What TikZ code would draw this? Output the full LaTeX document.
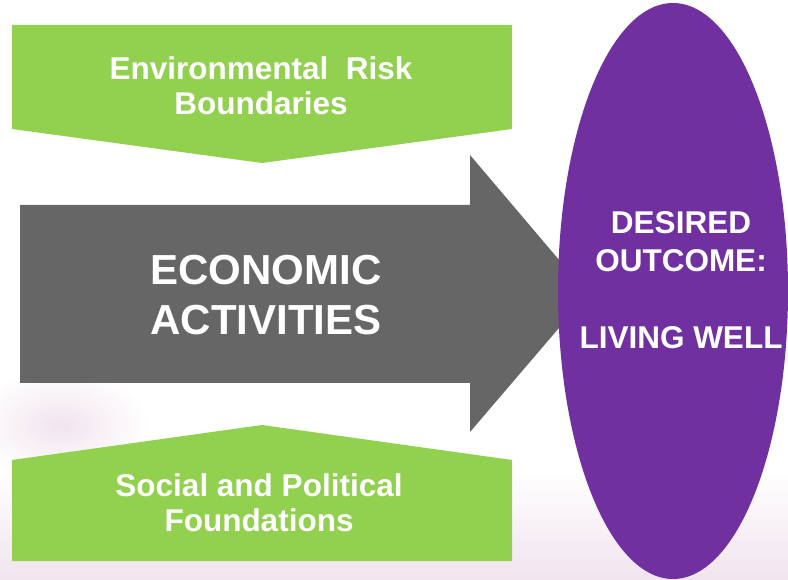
\documentclass[tikz,border=0pt]{standalone}
\usepackage{fontspec}
\setmainfont{Liberation Sans}
\usepackage{tikz}
\definecolor{boxgreen}{HTML}{92D050}
\definecolor{arrowgray}{HTML}{666666}
\definecolor{goalpurple}{HTML}{7030A0}
\definecolor{bgpink}{HTML}{F1E4EE}
\tikzset{
  frametext/.style={text=white,font=\bfseries,align=center,inner sep=0pt},
  greentext/.style={frametext,font=\fontsize{31.5}{35}\bfseries\selectfont},
}
\begin{document}
\begin{tikzpicture}[x=1pt,y=-1pt]
  \useasboundingbox (0,0) rectangle (788,580);
  \fill[white] (0,0) rectangle (788,580);
  \shade[top color=white,bottom color=bgpink] (0,470) rectangle (788,580);
  \shade[inner color=bgpink,outer color=white] (60,425) ellipse (90 and 55);
  \fill[boxgreen] (12,25) -- (512,25) -- (512,129) -- (262,163) -- (12,129) -- cycle;
  \fill[boxgreen] (12,561) -- (512,561) -- (512,460) -- (262,425) -- (12,460) -- cycle;
  \fill[arrowgray] (20,205) -- (470,205) -- (470,155) -- (588,294) -- (470,432)
    -- (470,383) -- (20,383) -- cycle;
  \fill[goalpurple] (673,291) ellipse (115 and 288);
  \node[greentext] (risk) at (261,86) {Environmental\ \ Risk\\Boundaries};
  \node[greentext] (social) at (259,503) {Social and Political\\Foundations};
  \node[frametext,font=\fontsize{42}{50}\bfseries\selectfont] (econ) at (266,295)
    {ECONOMIC\\ACTIVITIES};
  \node[frametext,font=\fontsize{31.5}{38.5}\bfseries\selectfont] (goal) at (681,280)
    {DESIRED\\OUTCOME:\\[38.5pt]LIVING WELL};
\end{tikzpicture}
\end{document}
